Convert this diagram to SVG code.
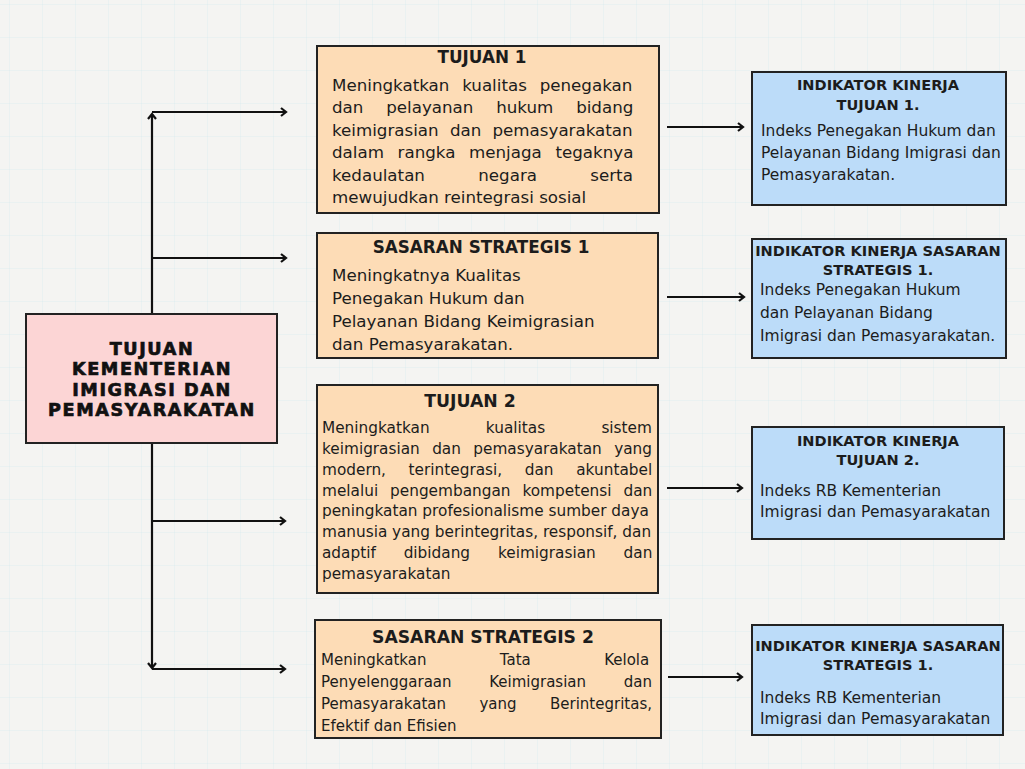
<svg xmlns="http://www.w3.org/2000/svg" width="1025" height="769" viewBox="0 0 1025 769">
<defs>
<pattern id="grid" width="33" height="33" patternUnits="userSpaceOnUse" x="10" y="5">
<path d="M33,0 V33 M0,33 H33" fill="none" stroke="#d8eaee" stroke-width="1" opacity="0.7"/>
</pattern>
<marker id="arr" markerUnits="userSpaceOnUse" markerWidth="12" markerHeight="12" refX="7" refY="6" orient="auto">
<path d="M2,2 L7,6 L2,10" fill="none" stroke="#111" stroke-width="2.2" stroke-linejoin="miter"/>
</marker>
<style>
.bg{fill:#f4f4f2}
.pink{fill:#fcd5d5;stroke:#222;stroke-width:2}
.org{fill:#fddcb6;stroke:#222;stroke-width:2}
.blu{fill:#bcdcf9;stroke:#222;stroke-width:2}
text{font-family:"DejaVu Sans","Liberation Sans",sans-serif;fill:#1c1c1c}
.ttl{font-weight:bold;text-anchor:middle}
.big{font-size:17.6px;font-weight:bold;text-anchor:middle;fill:#111;stroke:#111;stroke-width:0.7px;letter-spacing:1.6px}
.b167{font-size:16.7px}
.b153{font-size:15.3px}
.b15{font-size:15px}
.bb{font-size:15.5px}
.bt{font-size:14.6px;font-weight:bold;text-anchor:middle}
.con{fill:none;stroke:#111;stroke-width:2.2}
</style>
</defs>
<rect class="bg" x="0" y="0" width="1025" height="769"/>
<rect x="0" y="0" width="1025" height="769" fill="url(#grid)"/>

<g id="connectors">
<path class="con" d="M152,314 V114" marker-end="url(#arr)"/>
<path class="con" d="M152,112 H286" marker-end="url(#arr)"/>
<path class="con" d="M152,258 H286" marker-end="url(#arr)"/>
<path class="con" d="M152,443 V668" marker-end="url(#arr)"/>
<path class="con" d="M152,521 H285" marker-end="url(#arr)"/>
<path class="con" d="M152,669 H285" marker-end="url(#arr)"/>
<path class="con" d="M667,127 H743" marker-end="url(#arr)"/>
<path class="con" d="M667,297 H744" marker-end="url(#arr)"/>
<path class="con" d="M667,488 H742" marker-end="url(#arr)"/>
<path class="con" d="M668,677 H742" marker-end="url(#arr)"/>
</g>

<g id="tujuan-kementerian">
<rect class="pink" x="26" y="314" width="251" height="129"/>
<text class="big" x="152" y="354.5">TUJUAN</text>
<text class="big" x="152" y="375">KEMENTERIAN</text>
<text class="big" x="152" y="395.5">IMIGRASI DAN</text>
<text class="big" x="152" y="416">PEMASYARAKATAN</text>
</g>

<g id="tujuan-1">
<rect class="org" x="317" y="46" width="342" height="167"/>
<text class="ttl" x="482" y="63" font-size="16.8">TUJUAN 1</text>
<text class="b167" x="332" y="91" word-spacing="7.5">Meningkatkan kualitas penegakan</text>
<text class="b167" x="332" y="113" word-spacing="17.5">dan pelayanan hukum bidang</text>
<text class="b167" x="332" y="136" word-spacing="5.9">keimigrasian dan pemasyarakatan</text>
<text class="b167" x="332" y="158" word-spacing="8.3">dalam rangka menjaga tegaknya</text>
<text class="b167" x="332" y="181" word-spacing="48">kedaulatan negara serta</text>
<text class="b167" x="332" y="203">mewujudkan reintegrasi sosial</text>
</g>

<g id="sasaran-strategis-1">
<rect class="org" x="317" y="233" width="341" height="125"/>
<text class="ttl" x="481" y="253" font-size="16.8">SASARAN STRATEGIS 1</text>
<text class="b167" x="332" y="281">Meningkatnya Kualitas</text>
<text class="b167" x="332" y="304">Penegakan Hukum dan</text>
<text class="b167" x="332" y="327">Pelayanan Bidang Keimigrasian</text>
<text class="b167" x="332" y="350">dan Pemasyarakatan.</text>
</g>

<g id="tujuan-2">
<rect class="org" x="317" y="385" width="341" height="208"/>
<text class="ttl" x="470" y="407" font-size="17.3">TUJUAN 2</text>
<text class="b153" x="322" y="433" word-spacing="51.4">Meningkatkan kualitas sistem</text>
<text class="b153" x="322" y="454" word-spacing="7.5">keimigrasian dan pemasyarakatan yang</text>
<text class="b153" x="322" y="475" word-spacing="17.8">modern, terintegrasi, dan akuntabel</text>
<text class="b153" x="322" y="496" word-spacing="7.1">melalui pengembangan kompetensi dan</text>
<text class="b153" x="322" y="516">peningkatan profesionalisme sumber daya</text>
<text class="b153" x="322" y="537">manusia yang berintegritas, responsif, dan</text>
<text class="b153" x="322" y="558" word-spacing="23">adaptif dibidang keimigrasian dan</text>
<text class="b153" x="322" y="579">pemasyarakatan</text>
</g>

<g id="sasaran-strategis-2">
<rect class="org" x="315" y="620" width="346" height="118"/>
<text class="ttl" x="483" y="643" font-size="17.2">SASARAN STRATEGIS 2</text>
<text class="b15" x="321" y="665" word-spacing="68.6">Meningkatkan Tata Kelola</text>
<text class="b15" x="321" y="687" word-spacing="32.9">Penyelenggaraan Keimigrasian dan</text>
<text class="b15" x="321" y="709" word-spacing="28.7">Pemasyarakatan yang Berintegritas,</text>
<text class="b15" x="321" y="731">Efektif dan Efisien</text>
</g>

<g id="indikator-tujuan-1">
<rect class="blu" x="752" y="72" width="254" height="133"/>
<text class="bt" x="878" y="90">INDIKATOR KINERJA</text>
<text class="bt" x="878" y="110">TUJUAN 1.</text>
<text class="bb" x="761" y="136">Indeks Penegakan Hukum dan</text>
<text class="bb" x="761" y="158">Pelayanan Bidang Imigrasi dan</text>
<text class="bb" x="761" y="180">Pemasyarakatan.</text>
</g>

<g id="indikator-sasaran-1">
<rect class="blu" x="752" y="239" width="254" height="119"/>
<text class="bt" x="878" y="256">INDIKATOR KINERJA SASARAN</text>
<text class="bt" x="878" y="275">STRATEGIS 1.</text>
<text class="bb" x="760" y="295">Indeks Penegakan Hukum</text>
<text class="bb" x="760" y="318">dan Pelayanan Bidang</text>
<text class="bb" x="760" y="341">Imigrasi dan Pemasyarakatan.</text>
</g>

<g id="indikator-tujuan-2">
<rect class="blu" x="752" y="427" width="252" height="112"/>
<text class="bt" x="878" y="446">INDIKATOR KINERJA</text>
<text class="bt" x="878" y="465">TUJUAN 2.</text>
<text class="bb" x="760" y="496">Indeks RB Kementerian</text>
<text class="bb" x="760" y="517">Imigrasi dan Pemasyarakatan</text>
</g>

<g id="indikator-sasaran-2">
<rect class="blu" x="752" y="625" width="251" height="110"/>
<text class="bt" x="878" y="651">INDIKATOR KINERJA SASARAN</text>
<text class="bt" x="878" y="670">STRATEGIS 1.</text>
<text class="bb" x="760" y="703">Indeks RB Kementerian</text>
<text class="bb" x="760" y="724">Imigrasi dan Pemasyarakatan</text>
</g>
</svg>
